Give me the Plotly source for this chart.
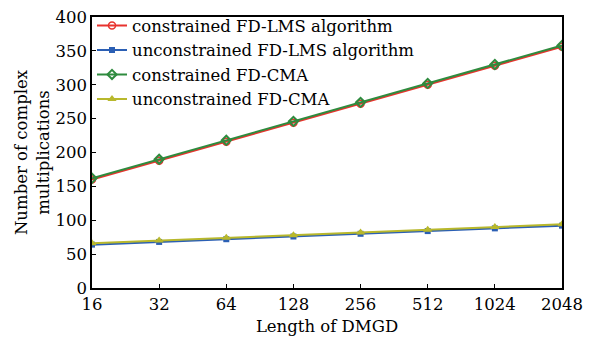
import plotly.graph_objects as go

x_labels = ["16", "32", "64", "128", "256", "512", "1024", "2048"]
constrained_lms = [160, 188, 216, 244, 272, 300, 328, 356]
unconstrained_lms = [64, 68, 72, 76, 80, 84, 88, 92]
constrained_cma = [162, 190, 218, 246, 274, 302, 330, 358]
unconstrained_cma = [66, 70, 74, 78, 82, 86, 90, 94]
y_ticks = [0, 50, 100, 150, 200, 250, 300, 350, 400]

FONT = "DejaVu Serif"
FS = 16.5
xpos = list(range(len(x_labels)))

fig = go.Figure()
fig.add_trace(go.Scatter(x=xpos, y=constrained_lms, name="constrained FD-LMS algorithm",
                         mode="lines+markers", line=dict(color="#e8332e", width=2),
                         marker=dict(symbol="circle-open", size=7, color="#e8332e", line=dict(width=1.5))))
fig.add_trace(go.Scatter(x=xpos, y=unconstrained_lms, name="unconstrained FD-LMS algorithm",
                         mode="lines+markers", line=dict(color="#2b5fb4", width=2),
                         marker=dict(symbol="square", size=6, color="#2b5fb4")))
fig.add_trace(go.Scatter(x=xpos, y=constrained_cma, name="constrained FD-CMA",
                         mode="lines+markers", line=dict(color="#2e8b3e", width=2),
                         marker=dict(symbol="diamond-open", size=7, color="#2e8b3e", line=dict(width=2))))
fig.add_trace(go.Scatter(x=xpos, y=unconstrained_cma, name="unconstrained FD-CMA",
                         mode="lines+markers", line=dict(color="#b8b82c", width=2),
                         marker=dict(symbol="triangle-up", size=8, color="#b8b82c")))

# page has an 8px body margin; compensate so the plot lands where the reference has it
fig.update_layout(
    width=583, height=333,
    margin=dict(l=84, r=29, t=9, b=53, autoexpand=False),
    paper_bgcolor="white", plot_bgcolor="white",
    font=dict(family=FONT, size=FS, color="black"),
    showlegend=True,
    legend=dict(x=0.0, y=1.032, xanchor="left", yanchor="top", bgcolor="rgba(0,0,0,0)",
                font=dict(family=FONT, size=FS), itemwidth=30, tracegroupgap=0),
)
fig.update_xaxes(range=[0, 7], tickmode="array", tickvals=xpos, ticktext=x_labels,
                 showgrid=False, zeroline=False, showline=True, linecolor="black", linewidth=1.5,
                 mirror=True, ticks="inside", ticklen=4, tickcolor="black", automargin=True,
                 ticklabeloverflow="allow",
                 title=dict(text="Length of DMGD", font=dict(family=FONT, size=FS), standoff=8))
fig.update_yaxes(range=[0, 400], tickmode="array", tickvals=y_ticks,
                 showgrid=False, zeroline=False, showline=True, linecolor="black", linewidth=1.5,
                 mirror=True, ticks="inside", ticklen=4, tickcolor="black", automargin=False,
                 ticklabeloverflow="allow",
                 title=dict(text="Number of complex<br>multiplications", font=dict(family=FONT, size=FS), standoff=2))

fig.write_html("out.html")
